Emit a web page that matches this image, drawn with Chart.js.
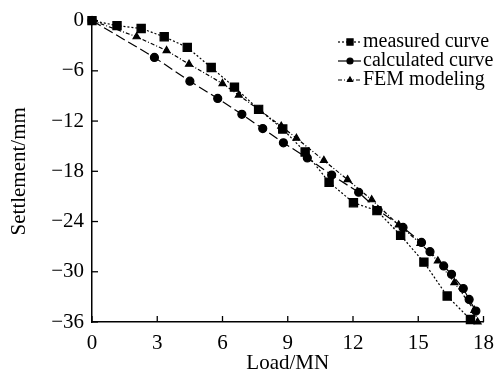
<!DOCTYPE html>
<html>
<head>
<meta charset="utf-8">
<script src="https://cdn.jsdelivr.net/npm/chart.js@4/dist/chart.umd.min.js"></script>
<style>
  html, body { margin: 0; padding: 0; background: #fff; }
  #wrap { width: 503px; height: 385px; }
</style>
</head>
<body>
<div id="wrap"><canvas id="line-canvas"></canvas></div>
<script>
// values (load in MN, settlement in mm)
const measuredLoad = [0, 1.15, 2.26, 3.32, 4.38, 5.48, 6.55, 7.66, 8.77, 9.8, 10.9, 12.02, 13.1, 14.19, 15.26, 16.33, 17.4]
const measuredSettle = [0, -0.6, -0.94, -1.93, -3.2, -5.6, -7.95, -10.6, -12.95, -15.7, -19.3, -21.75, -22.7, -25.65, -28.85, -32.9, -35.7]

const calcLoad = [0, 2.87, 4.5, 5.78, 6.89, 7.85, 8.8, 9.9, 11.02, 12.26, 13.15, 14.3, 15.15, 15.54, 16.17, 16.53, 17.07, 17.34, 17.65]
const calcSettle = [0, -4.4, -7.24, -9.3, -11.2, -12.9, -14.6, -16.4, -18.45, -20.5, -22.65, -24.7, -26.5, -27.6, -29.3, -30.3, -32.0, -33.3, -34.7]

const femLoad = [0, 2.05, 3.43, 4.46, 6.0, 6.75, 7.7, 8.7, 9.4, 10.66, 11.75, 12.86, 14.1, 15.1, 15.9, 16.66, 17.58, 17.73]
const femSettle = [0, -1.93, -3.58, -5.2, -7.52, -8.9, -10.7, -12.6, -14.05, -16.7, -19.0, -21.4, -24.4, -26.6, -28.7, -31.3, -34.6, -36.0]

const seriesLabels = ["measured curve", "calculated curve", "FEM modeling"]
const loadTicks = [0, 3, 6, 9, 12, 15, 18]
const settleTicks = [0, -6, -12, -18, -24, -30, -36]

const FONT = "Liberation Serif"
const toPoints = (xs, ys) => xs.map((x, i) => ({ x: x, y: ys[i] }))

// tick marks point into the plot, like the original figure
const innerTicks = {
    id: "innerTicks",
    afterDraw: (chart) => {
        const ctx = chart.ctx
        const area = chart.chartArea
        const xs = chart.scales.x
        const ys = chart.scales.y
        ctx.save()
        ctx.strokeStyle = "#000"
        ctx.lineWidth = 1.3
        loadTicks.forEach(v => {
            const px = xs.getPixelForValue(v)
            ctx.beginPath()
            ctx.moveTo(px, area.bottom)
            ctx.lineTo(px, area.bottom - 6)
            ctx.stroke()
        })
        settleTicks.forEach(v => {
            const py = ys.getPixelForValue(v)
            ctx.beginPath()
            ctx.moveTo(area.left, py)
            ctx.lineTo(area.left + 6, py)
            ctx.stroke()
        })
        ctx.restore()
    }
}

// small legend in the upper right corner
const cornerLegend = {
    id: "cornerLegend",
    afterDraw: (chart) => {
        const ctx = chart.ctx
        ctx.save()
        chart.data.datasets.forEach((ds, i) => {
            const y = 42 + i * 19
            ctx.strokeStyle = "#000"
            ctx.lineWidth = 1.2
            ctx.setLineDash(i === 1 ? [] : ds.borderDash)
            ctx.beginPath()
            ctx.moveTo(338, y)
            ctx.lineTo(361, y)
            ctx.stroke()
            ctx.setLineDash([])
            Chart.helpers.drawPoint(ctx, {
                pointStyle: ds.pointStyle,
                radius: ds.pointRadius * 0.75,
                borderWidth: 1
            }, 350, y)
            ctx.fillStyle = "#000"
            ctx.font = "20px '" + FONT + "'"
            ctx.textBaseline = "middle"
            ctx.fillText(ds.label, 363, y)
        })
        ctx.restore()
    }
}

const lineCanvas = document.getElementById("line-canvas")

const lineChart = new Chart(lineCanvas, {
    type: "scatter",
    data: {
        datasets: [{
            label: seriesLabels[0],
            data: toPoints(measuredLoad, measuredSettle),
            showLine: true,
            borderColor: "#000",
            backgroundColor: "#000",
            borderWidth: 1.2,
            borderDash: [2, 2],
            pointStyle: "rect",
            pointRadius: 5.8,
            clip: false
        }, {
            label: seriesLabels[1],
            data: toPoints(calcLoad, calcSettle),
            showLine: true,
            borderColor: "#000",
            backgroundColor: "#000",
            borderWidth: 1.2,
            borderDash: [10, 4],
            pointStyle: "circle",
            pointRadius: 4,
            clip: false
        }, {
            label: seriesLabels[2],
            data: toPoints(femLoad, femSettle),
            showLine: true,
            borderColor: "#000",
            backgroundColor: "#000",
            borderWidth: 1.2,
            borderDash: [4, 2, 1, 2],
            pointStyle: "triangle",
            pointRadius: 4,
            clip: false
        }]
    },
    options: {
        responsive: true,
        maintainAspectRatio: false,
        animation: false,
        layout: {
            padding: { top: 17, right: 18, left: 0, bottom: 0 }
        },
        plugins: {
            legend: { display: false },
            tooltip: { enabled: false }
        },
        scales: {
            x: {
                type: "linear",
                min: 0,
                max: 18,
                afterFit: (scale) => { scale.height = 63 },
                afterBuildTicks: (scale) => { scale.ticks = loadTicks.map(v => ({ value: v })) },
                grid: { display: true, drawOnChartArea: false, drawTicks: false },
                border: { display: true, color: "#000", width: 1.5 },
                ticks: {
                    color: "#000",
                    padding: 9,
                    maxRotation: 0,
                    font: { family: FONT, size: 21 }
                },
                title: {
                    display: true,
                    text: "Load/MN",
                    color: "#000",
                    font: { family: FONT, size: 21 },
                    padding: { top: 0, bottom: 9 }
                }
            },
            y: {
                type: "linear",
                min: -36,
                max: 0,
                afterFit: (scale) => { scale.width = 92 },
                afterBuildTicks: (scale) => { scale.ticks = settleTicks.map(v => ({ value: v })) },
                grid: { display: true, drawOnChartArea: false, drawTicks: false },
                border: { display: true, color: "#000", width: 1.5 },
                ticks: {
                    color: "#000",
                    padding: 8,
                    font: { family: FONT, size: 21 },
                    callback: (v) => v === 0 ? "0" : "\u2212" + Math.abs(v)
                },
                title: {
                    display: true,
                    text: "Settlement/mm",
                    color: "#000",
                    font: { family: FONT, size: 21 },
                    padding: { top: 7, bottom: 0 }
                }
            }
        }
    },
    plugins: [innerTicks, cornerLegend]
})
</script>
</body>
</html>
